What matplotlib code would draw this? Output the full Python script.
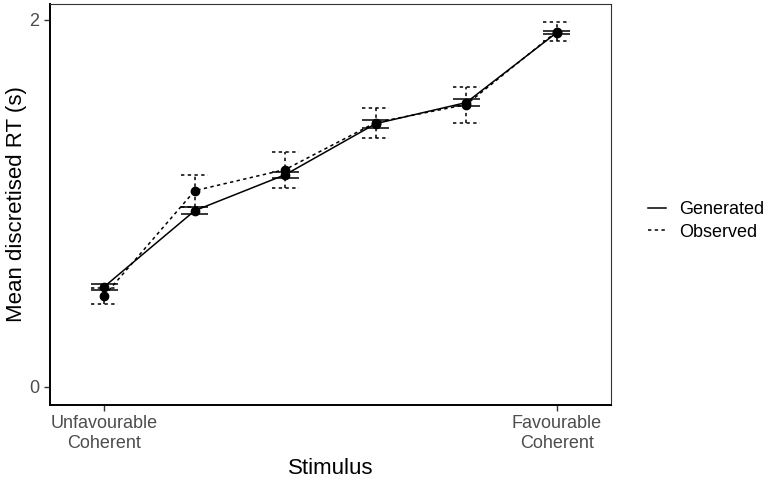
import numpy as np
import matplotlib
matplotlib.use("Agg")
import matplotlib.pyplot as plt
from matplotlib.lines import Line2D

plt.rcParams['font.family'] = ['Liberation Sans', 'DejaVu Sans']

# stimulus levels (only the ends are labelled)
levels = [1, 2, 3, 4, 5, 6]
tick_pos = [1, 6]
tick_labels = ["Unfavourable\nCoherent", "Favourable\nCoherent"]

gen_mean = [0.545, 0.959, 1.155, 1.433, 1.548, 1.929]
gen_se = [0.016, 0.019, 0.016, 0.022, 0.019, 0.010]
obs_mean = [0.496, 1.068, 1.183, 1.439, 1.537, 1.935]
obs_se = [0.044, 0.087, 0.098, 0.082, 0.098, 0.054]

fig = plt.figure(figsize=(7.69, 4.79), dpi=100)
ax = fig.add_axes([50/769, 1-405/479, (611-50)/769, (405-4)/479])

dash = (0, (2.2, 2.2))
lw = 1.1
cap = 0.15


def draw_series(mean, se, ls, z):
    x = np.array(levels)
    m = np.array(mean)
    s = np.array(se)
    ax.plot(x, m, color='black', lw=lw, linestyle=ls, zorder=z)
    ax.vlines(x, m - s, m + s, color='black', lw=lw, linestyle=ls, zorder=z)
    ax.hlines(m - s, x - cap, x + cap, color='black', lw=lw, linestyle=ls, zorder=z)
    ax.hlines(m + s, x - cap, x + cap, color='black', lw=lw, linestyle=ls, zorder=z)
    ax.plot(x, m, 'o', color='black', ms=6, zorder=z + 1)


draw_series(obs_mean, obs_se, dash, 2)
draw_series(gen_mean, gen_se, '-', 3)

ax.set_xlim(0.4, 6.6)
ax.set_ylim(-0.1, 2.085)
ax.set_xticks(tick_pos)
ax.set_xticklabels(tick_labels)
ax.set_yticks([0, 2])
ax.set_yticklabels(['0', '2'])
ax.tick_params(colors='#333333', labelcolor='#4D4D4D', labelsize=13, length=4, width=1)
for s in ['top', 'right']:
    ax.spines[s].set_linewidth(0.8)
    ax.spines[s].set_color('#333333')
for s in ['left', 'bottom']:
    ax.spines[s].set_linewidth(1.4)

ax.set_xlabel("Stimulus", fontsize=16, labelpad=4)
ax.set_ylabel("Mean discretised RT (s)", fontsize=16, labelpad=2)

handles = [Line2D([], [], color='black', lw=lw, linestyle='-'),
           Line2D([], [], color='black', lw=lw, linestyle=dash)]
fig.legend(handles, ["Generated", "Observed"], loc='center left',
           bbox_to_anchor=(641/769, 1-221/479), frameon=False,
           fontsize=13, handlelength=1.0, handletextpad=0.7,
           labelspacing=0.3, borderaxespad=0)

fig.savefig("out.png", dpi=100)
